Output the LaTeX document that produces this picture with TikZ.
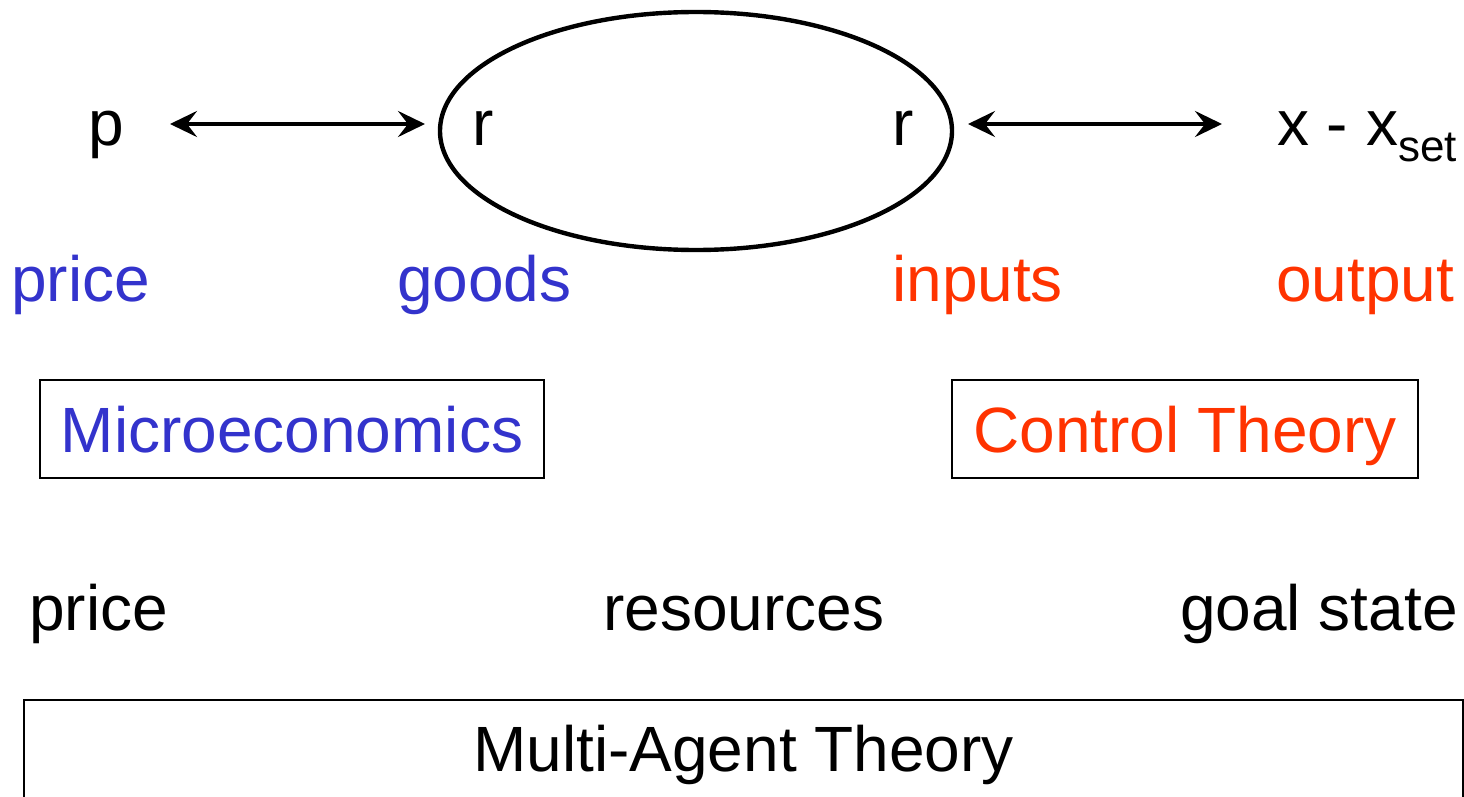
\documentclass[tikz,border=0pt]{standalone}
\usepackage{fontspec}
\setmainfont{Liberation Sans}
\usetikzlibrary{arrows.meta}

\definecolor{econblue}{HTML}{3333CC}
\definecolor{ctrlred}{HTML}{FF3300}

\tikzset{
	label text/.style={anchor=base west, inner sep=0pt, font=\fontsize{64pt}{76pt}\selectfont},
	theory box/.style={draw, line width=2.4pt, inner sep=0pt, text height=46pt, text depth=0pt, font=\fontsize{64pt}{76pt}\selectfont},
	link arrow/.style={line width=4pt, {Stealth[length=27pt,width=26pt,inset=10pt]}-{Stealth[length=27pt,width=26pt,inset=10pt]}}
}

\begin{document}
\begin{tikzpicture}[x=1pt, y=-1pt]

	\useasboundingbox (0,0) rectangle (1464,797);

% Define coordinates.

	%arrow ends
	\coordinate (priceArrow) at (170, 124);
	\coordinate (goodsArrow) at (425, 124);
	\coordinate (inputArrow) at (968, 124);
	\coordinate (outputArrow) at (1222, 124);

	%ellipse centre
	\coordinate (agent) at (696, 131);

% Draw top row.

	\node[label text] (p) at (88, 146) {p};
	\node[label text] (rGoods) at (472, 146) {r};
	\node[label text] (rInputs) at (892, 146) {r};
	\node[label text] (xDiff) at (1277, 146) {x - x\raisebox{-16pt}{\fontsize{44pt}{52pt}\selectfont set}};

	\draw[line width=4.4pt] (agent) ellipse [x radius=256, y radius=119];

	\draw[link arrow] (priceArrow) -- (goodsArrow);
	\draw[link arrow] (inputArrow) -- (outputArrow);

% Draw coloured labels.

	\node[label text, text=econblue] (priceMicro) at (11, 301) {price};
	\node[label text, text=econblue] (goods) at (397, 301) {goods};
	\node[label text, text=ctrlred] (inputs) at (892, 301) {inputs};
	\node[label text, text=ctrlred] (output) at (1276, 301) {output};

% Draw boxes.

	\node[theory box, text=econblue, minimum width=504, minimum height=98] (micro) at (292, 429) {Microeconomics};
	\node[theory box, text=ctrlred, minimum width=466, minimum height=98] (control) at (1185, 429) {Control Theory};

% Draw multi-agent labels.

	\node[label text] (priceAgent) at (29, 630) {price};
	\node[label text] (resources) at (603, 630) {resources};
	\node[label text] (goal) at (1180, 630) {goal state};

	\node[theory box, line width=2.8pt, minimum width=1439, text depth=60pt, inner ysep=25pt, anchor=base] (multi) at (743.5, 771) {Multi-Agent Theory};

\end{tikzpicture}
\end{document}
